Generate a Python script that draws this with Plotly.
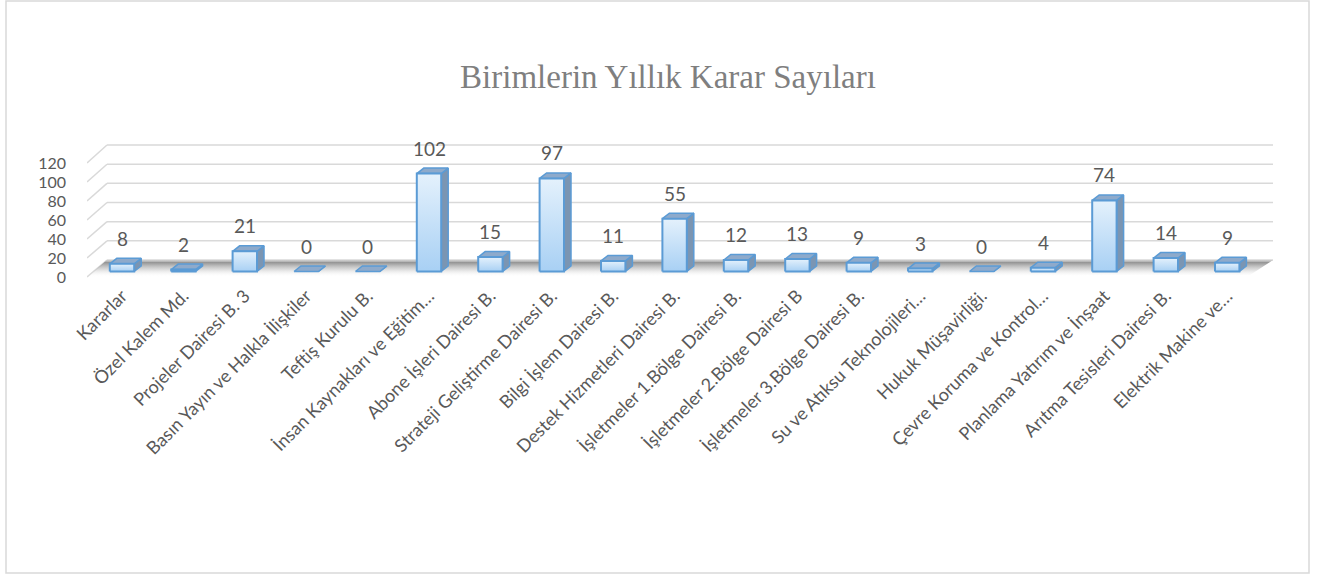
import plotly.graph_objects as go

# ---------------- data ----------------
categories = [
    "Kararlar", "Özel Kalem Md.", "Projeler Dairesi B. 3",
    "Basın Yayın ve Halkla İlişkiler", "Teftiş Kurulu B.",
    "İnsan Kaynakları ve Eğitim…", "Abone İşleri Dairesi B.",
    "Strateji Geliştirme Dairesi B.", "Bilgi İşlem Dairesi B.",
    "Destek Hizmetleri Dairesi B.", "İşletmeler 1.Bölge Dairesi B.",
    "İşletmeler 2.Bölge Dairesi B", "İşletmeler 3.Bölge Dairesi B.",
    "Su ve Atıksu Teknolojileri…", "Hukuk Müşavirliği.",
    "Çevre Koruma ve Kontrol…", "Planlama Yatırım ve İnşaat",
    "Arıtma Tesisleri Dairesi B.", "Elektrik Makine ve…",
]
values = [8, 2, 21, 0, 0, 102, 15, 97, 11, 55, 12, 13, 9, 3, 0, 4, 74, 14, 9]
y_ticks = [0, 20, 40, 60, 80, 100, 120]
title_text = "Birimlerin Yıllık Karar Sayıları"

# ---------------- geometry (pixels) ----------------
W, H = 1327, 577
L, R, T, B = 87, 1280, 112, 281
XS = 61.4          # px per category
FIRST_PX = 122     # px of first category centre
BASE_PX = 271.5    # bar plane zero
YS = 0.96          # px per unit in bar plane
FRONT0, FRONT_S = 277.0, 0.95   # front plane (labels)
BACK0, BACK_S = 260.0, 0.958    # back wall (grid)
BACK_L, BACK_R = 107, 1273

x0 = (L - FIRST_PX) / XS
x1 = x0 + (R - L) / XS
def to_x(px):
    return x0 + (px - L) / XS
def to_y(py):
    return (BASE_PX - py) / YS
def paper_x(px):
    return (px - L) / (R - L)
def paper_y(py):
    return (B - py) / (B - T)

hw = 12.2 / XS
dx = 7.0 / XS
dy = 5.5 / YS

EDGE = "#5b9bd5"
TOP = "#8eaacb"
SIDE = "#7b95b2"
GRID = "#d9d9d9"
TXT = "#595959"

fig = go.Figure()

# floor shadow
fx = [to_x(87), to_x(1250), to_x(BACK_R), to_x(BACK_L), to_x(87)]
fy = [to_y(FRONT0), to_y(FRONT0 - 2), to_y(BACK0), to_y(BACK0), to_y(FRONT0)]
fig.add_trace(go.Scatter(
    x=fx, y=fy, mode="lines", fill="toself", line=dict(width=0),
    fillgradient=dict(type="vertical", colorscale=[
        [0, "rgba(255,255,255,0)"], [0.45, "rgba(190,190,190,0.55)"],
        [0.85, "rgba(130,130,130,0.85)"], [1, "rgba(200,200,200,0.6)"]]),
    hoverinfo="skip", showlegend=False))

# 3D bars
for i, v in enumerate(values):
    side_x = [i + hw, i + hw + dx, i + hw + dx, i + hw, i + hw]
    side_y = [0, dy, v + dy, v, 0]
    fig.add_trace(go.Scatter(x=side_x, y=side_y, mode="lines", fill="toself",
                             fillcolor=SIDE, line=dict(color=EDGE, width=1.5),
                             hoverinfo="skip", showlegend=False))
    top_x = [i - hw, i + hw, i + hw + dx, i - hw + dx, i - hw]
    top_y = [v, v, v + dy, v + dy, v]
    fig.add_trace(go.Scatter(x=top_x, y=top_y, mode="lines", fill="toself",
                             fillcolor=TOP, line=dict(color=EDGE, width=1.5),
                             hoverinfo="skip", showlegend=False))
    if v > 0:
        fr_x = [i - hw, i + hw, i + hw, i - hw, i - hw]
        fr_y = [0, 0, v, v, 0]
        fig.add_trace(go.Scatter(
            x=fr_x, y=fr_y, mode="lines", fill="toself",
            fillgradient=dict(type="vertical", colorscale=[
                [0, "#a8d0f4"], [1, "#e4f1fc"]]),
            line=dict(color=EDGE, width=2),
            hoverinfo="skip", showlegend=False))

# invisible trace for label axis
fig.add_trace(go.Scatter(x=[0], y=[0], yaxis="y2", mode="markers",
                         marker=dict(opacity=0), hoverinfo="skip",
                         showlegend=False))

shapes = []
# back wall gridlines and left diagonals
for t in y_ticks:
    by = to_y(BACK0 - t * BACK_S)
    shapes.append(dict(type="line", xref="x", yref="y", layer="below",
                       x0=to_x(BACK_L), x1=to_x(BACK_R), y0=by, y1=by,
                       line=dict(color=GRID, width=1.5)))
    shapes.append(dict(type="line", xref="x", yref="y", layer="below",
                       x0=to_x(87), x1=to_x(BACK_L),
                       y0=to_y(FRONT0 - t * FRONT_S), y1=by,
                       line=dict(color=GRID, width=1.5)))
# chart border
shapes.append(dict(type="rect", xref="paper", yref="paper",
                   x0=paper_x(6), x1=paper_x(1309), y0=paper_y(573), y1=paper_y(1),
                   line=dict(color="#d9d9d9", width=1.5), layer="below"))

annotations = []
for i, v in enumerate(values):
    annotations.append(dict(x=i, y=v, xref="x", yref="y", text=str(v),
                            showarrow=False, yanchor="middle", yshift=25.5,
                            font=dict(family="Lato", size=19, color=TXT)))

fig.update_layout(
    width=W, height=H, autosize=False,
    margin=dict(l=L, r=W - R, t=T, b=H - B, pad=0),
    paper_bgcolor="white", plot_bgcolor="rgba(0,0,0,0)",
    title=dict(text=title_text, x=668 / W, xref="container", xanchor="center",
               y=1 - 76 / H, yref="container", yanchor="middle",
               font=dict(family="Liberation Serif", size=33, color="#7f7f7f")),
    xaxis=dict(range=[x0, x1], tickmode="array",
               tickvals=list(range(len(categories))), ticktext=categories,
               tickangle=-45, showgrid=False, zeroline=False, showline=False,
               ticks="", tickfont=dict(family="Lato", size=18, color=TXT)),
    yaxis=dict(range=[to_y(B), to_y(T)], showgrid=False, zeroline=False,
               showline=False, showticklabels=False, ticks=""),
    yaxis2=dict(range=[(FRONT0 - B) / FRONT_S, (FRONT0 - T) / FRONT_S],
                overlaying="y", side="left", tickmode="array",
                tickvals=y_ticks, ticktext=[str(t) for t in y_ticks],
                showgrid=False, zeroline=False, showline=False, ticks="",
                ticklabelstandoff=20,
                tickfont=dict(family="Lato", size=16, color=TXT)),
    shapes=shapes, annotations=annotations, showlegend=False,
)

fig.write_html("out.html", config={"displayModeBar": False},
               post_script="document.body.style.margin='0px';document.body.style.overflow='hidden';")
